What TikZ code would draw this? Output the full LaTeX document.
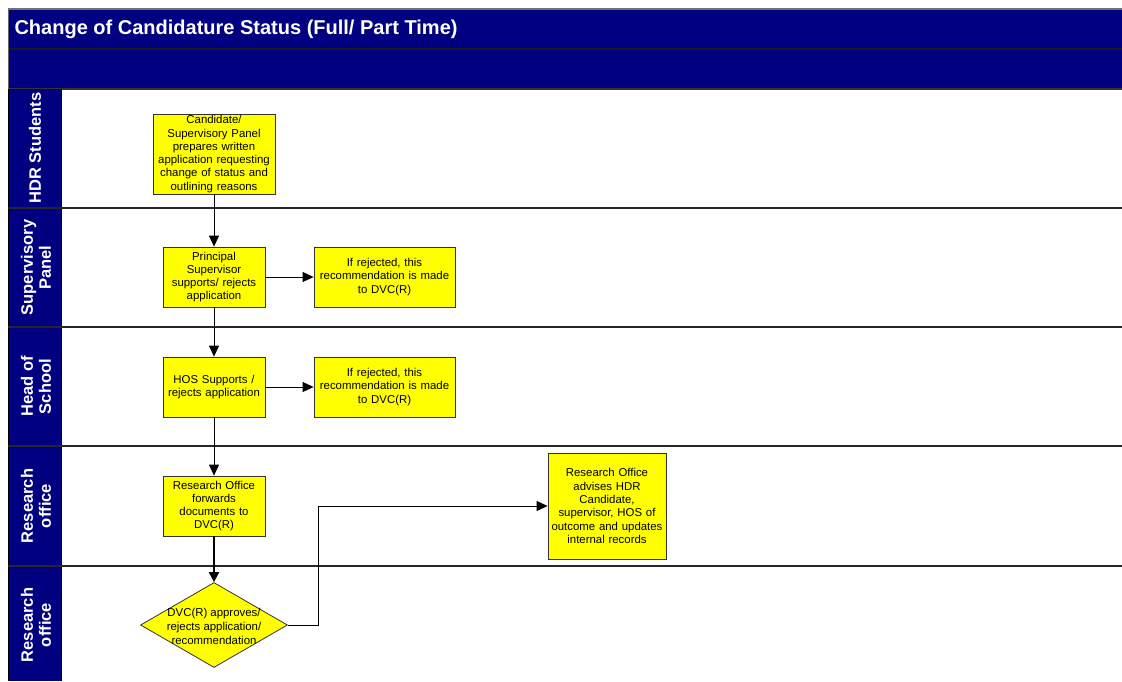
\documentclass[tikz,border=0pt]{standalone}
\usepackage{fontspec}
\setmainfont{Liberation Sans}
\usetikzlibrary{shapes.geometric,arrows.meta}
\definecolor{navy}{HTML}{000080}
\definecolor{boxyellow}{HTML}{FFFF00}
\tikzset{
  procbox/.style={draw=black!80, line width=0.8pt, fill=boxyellow, align=center, inner sep=0pt,
    font=\fontsize{11.4}{13.3}\selectfont},
  decbox/.style={draw=black!80, line width=0.8pt, fill=boxyellow, diamond, align=center, inner sep=0pt},
  lanelabel/.style={rotate=90, text=white, align=center, font=\fontsize{16.5}{18}\selectfont\bfseries},
  flow/.style={line width=0.8pt, -{Triangle[length=11pt,width=10pt]}},
  lanesep/.style={line width=1.3pt, draw=black!85}
}
\begin{document}
\begin{tikzpicture}[x=1pt,y=-1pt]
\useasboundingbox (0,0) rectangle (1122,681);
\fill[white] (0,0) rectangle (1122,681);
% title bars
\fill[navy] (8,9) rectangle (1122,89);
\draw[black!55, line width=1.5pt] (8,9) -- (1122,9);
\draw[black!90, line width=1.5pt] (8,49) -- (1122,49);
\draw[black!80, line width=1.5pt] (8,89) -- (1122,89);
\draw[black!60, line width=1pt] (8,9) -- (8,89);
\node[anchor=west, text=white, font=\fontsize{20}{23}\selectfont\bfseries] (title) at (11,29.5) {Change of Candidature Status (Full/ Part Time)};
% lane label column
\fill[navy] (8,89) rectangle (61,681);
\draw[black, line width=1pt] (8,89) -- (8,681);
\draw[black, line width=1pt] (61,89) -- (61,681);
% lane separators
\foreach \yy in {208,327,446,566} {
  \draw[lanesep] (8,\yy) -- (1122,\yy);
}
% lane labels
\node[lanelabel] (l1) at (35,148) {HDR Students};
\node[lanelabel] (l2) at (36,267.5) {Supervisory\\Panel};
\node[lanelabel] (l3) at (36,386.5) {Head of\\School};
\node[lanelabel] (l4) at (36,506) {Research\\office};
\node[lanelabel] (l5) at (36,625) {Research\\office};
% process nodes
\node[procbox, minimum width=122pt, minimum height=80pt, text width=120pt] (b1) at (214,154)
  {Candidate/\\Supervisory Panel\\prepares written\\application requesting\\change of status and\\outlining reasons};
\node[procbox, minimum width=102pt, minimum height=60pt, text width=100pt] (b2) at (214,277)
  {Principal\\Supervisor\\supports/ rejects\\application};
\node[procbox, minimum width=141pt, minimum height=60pt, text width=139pt] (b3) at (384.5,277)
  {If rejected, this\\recommendation is made\\to DVC(R)};
\node[procbox, minimum width=102pt, minimum height=60pt, text width=100pt] (b4) at (214,387)
  {HOS Supports /\\rejects application};
\node[procbox, minimum width=141pt, minimum height=60pt, text width=139pt] (b5) at (384.5,387)
  {If rejected, this\\recommendation is made\\to DVC(R)};
\node[procbox, minimum width=102pt, minimum height=60pt, text width=100pt] (b6) at (214,506)
  {Research Office\\forwards\\documents to\\DVC(R)};
\node[procbox, minimum width=118pt, minimum height=106pt, text width=116pt] (b7) at (607,506)
  {Research Office\\advises HDR\\Candidate,\\supervisor, HOS of\\outcome and updates\\internal records};
\node[decbox, minimum width=147pt, minimum height=85pt, aspect=1.73] (d1) at (214,625) {};
\node[align=center, font=\fontsize{11.4}{14}\selectfont] (d1t) at (214,626)
  {DVC(R) approves/\\rejects application/\\recommendation};
% connectors
\draw[flow] (b1) -- (b2);
\draw[flow] (b2) -- (b3);
\draw[flow] (b2) -- (b4);
\draw[flow] (b4) -- (b5);
\draw[flow] (b4) -- (b6);
\draw[line width=2pt, -{Triangle[length=10pt,width=10pt]}] (b6) -- (d1);
\coordinate (bend1) at (318,625);
\coordinate (bend2) at (318,506);
\draw[flow] (d1.east) -- (bend1) -- (bend2) -- (b7.west);
\end{tikzpicture}
\end{document}
